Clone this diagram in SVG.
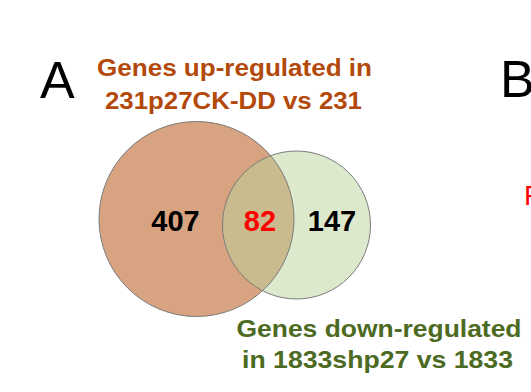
<svg xmlns="http://www.w3.org/2000/svg" width="531" height="392" viewBox="0 0 531 392">
<style>
.lbl{font-family:"Liberation Sans",Arial,sans-serif;font-weight:bold;text-anchor:middle}
.big{font-family:"Liberation Sans",Arial,sans-serif;font-size:52px;fill:#000}
.num{font-family:"Liberation Sans",Arial,sans-serif;font-weight:bold;font-size:29px;text-anchor:middle}
.ring{fill:none;stroke:#7a7a7a;stroke-width:1}
</style>
<defs>
<clipPath id="clipSmall"><circle cx="296.5" cy="225" r="74"/></clipPath>
</defs>
<rect width="531" height="392" fill="#fff"/>
<g id="panelA-label"><text class="big" x="40" y="98">A</text></g>
<g id="panelB-label"><text class="big" x="500" y="97">B</text></g>
<g id="panelB-partial"><text x="524" y="205" style="font-family:'Liberation Sans',Arial,sans-serif;font-size:28px;fill:#ff0000">F</text></g>
<g id="set-up">
<circle cx="196.5" cy="219" r="97.5" fill="#D8A380"/>
</g>
<g id="set-down">
<circle cx="296.5" cy="225" r="74" fill="#DDE9CD"/>
</g>
<g id="overlap">
<circle cx="196.5" cy="219" r="97.5" fill="#C9BB8D" clip-path="url(#clipSmall)"/>
</g>
<g id="outlines">
<circle class="ring" cx="196.5" cy="219" r="97.5"/>
<circle class="ring" cx="296.5" cy="225" r="74"/>
</g>
<g id="counts">
<text class="num" x="175.5" y="231" fill="#000">407</text>
<text class="num" x="260" y="231" fill="#ff0000">82</text>
<text class="num" x="332" y="231" fill="#000">147</text>
</g>
<g id="title-up">
<text class="lbl" x="234.5" y="76" font-size="24.5" fill="#B3490A" textLength="275" lengthAdjust="spacingAndGlyphs">Genes up-regulated in</text>
<text class="lbl" x="233.5" y="109" font-size="24.5" fill="#B3490A" textLength="257" lengthAdjust="spacingAndGlyphs">231p27CK-DD vs 231</text>
</g>
<g id="title-down">
<text class="lbl" x="379" y="337" font-size="24.5" fill="#4C6A22" textLength="285" lengthAdjust="spacingAndGlyphs">Genes down-regulated</text>
<text class="lbl" x="377.5" y="368" font-size="24.5" fill="#4C6A22" textLength="271" lengthAdjust="spacingAndGlyphs">in 1833shp27 vs 1833</text>
</g>
</svg>
